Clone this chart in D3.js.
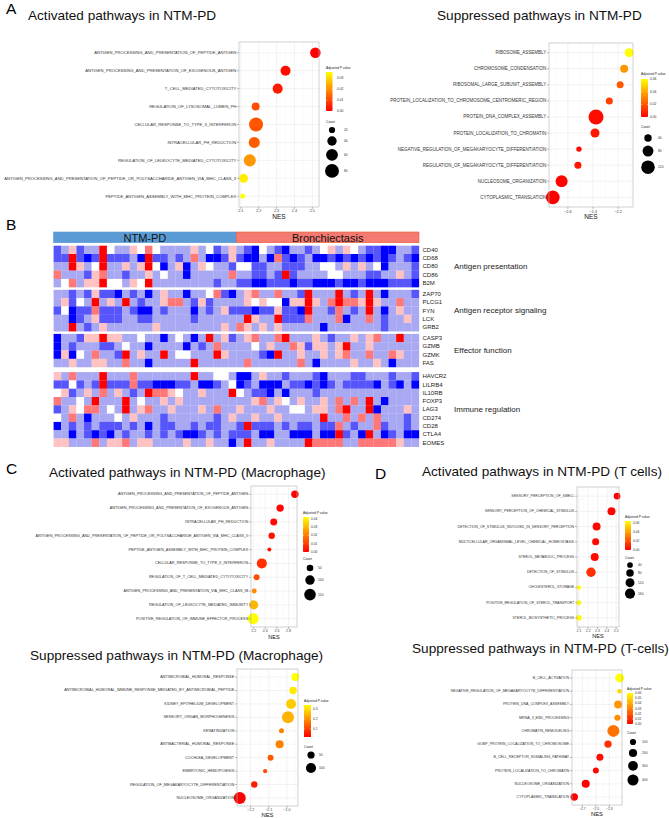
<!DOCTYPE html>
<html>
<head>
<meta charset="utf-8">
<script src="https://cdn.jsdelivr.net/npm/d3@7"></script>
<style>
  body { margin: 0; background: #fff; }
  svg { display: block; }
  text { font-family: "Liberation Sans", Arial, Helvetica, sans-serif; }
</style>
</head>
<body>
<svg id="chart" width="669" height="818"></svg>
<script>
// ---------- Panel A: bulk GSEA ----------
const aUpTerms = ["ANTIGEN_PROCESSING_AND_PRESENTATION_OF_PEPTIDE_ANTIGEN", "ANTIGEN_PROCESSING_AND_PRESENTATION_OF_EXOGENOUS_ANTIGEN", "T_CELL_MEDIATED_CYTOTOXICITY", "REGULATION_OF_LYSOSOMAL_LUMEN_PH", "CELLULAR_RESPONSE_TO_TYPE_II_INTERFERON", "INTRACELLULAR_PH_REDUCTION", "REGULATION_OF_LEUKOCYTE_MEDIATED_CYTOTOXICITY", "ANTIGEN_PROCESSING_AND_PRESENTATION_OF_PEPTIDE_OR_POLYSACCHARIDE_ANTIGEN_VIA_MHC_CLASS_II", "PEPTIDE_ANTIGEN_ASSEMBLY_WITH_MHC_PROTEIN_COMPLEX"];
const aUpNES = [2.517, 2.35, 2.306, 2.183, 2.185, 2.175, 2.15, 2.115, 2.11];
const aUpPadj = [0.0003, 0.002, 0.004, 0.011, 0.012, 0.013, 0.021, 0.033, 0.0355];
const aUpCount = [49, 45, 45, 30, 81, 53, 62, 37, 14];
const aUpTicks = [2.1, 2.2, 2.3, 2.4, 2.5];
const aUpPTicks = [0, 0.01, 0.02, 0.03];
const aUpSizeBreaks = [20, 40, 60, 80];

const aDownTerms = ["RIBOSOME_ASSEMBLY", "CHROMOSOME_CONDENSATION", "RIBOSOMAL_LARGE_SUBUNIT_ASSEMBLY", "PROTEIN_LOCALIZATION_TO_CHROMOSOME_CENTROMERIC_REGION", "PROTEIN_DNA_COMPLEX_ASSEMBLY", "PROTEIN_LOCALIZATION_TO_CHROMATIN", "NEGATIVE_REGULATION_OF_MEGAKARYOCYTE_DIFFERENTIATION", "REGULATION_OF_MEGAKARYOCYTE_DIFFERENTIATION", "NUCLEOSOME_ORGANIZATION", "CYTOPLASMIC_TRANSLATION"];
const aDownNES = [-2.112, -2.152, -2.184, -2.27, -2.376, -2.384, -2.512, -2.52, -2.65, -2.72];
const aDownPadj = [0.06, 0.036, 0.021, 0.015, 0.003, 0.006, 0.003, 0.005, 0.001, 0.0003];
const aDownCount = [57, 46, 36, 36, 147, 57, 23, 36, 96, 122];
const aDownTicks = [-2.6, -2.4, -2.2];
const aDownPTicks = [0, 0.02, 0.04, 0.06];
const aDownSizeBreaks = [40, 80, 120];

// ---------- Panel C: macrophages ----------
const cUpTerms = ["ANTIGEN_PROCESSING_AND_PRESENTATION_OF_PEPTIDE_ANTIGEN", "ANTIGEN_PROCESSING_AND_PRESENTATION_OF_EXOGENOUS_ANTIGEN", "INTRACELLULAR_PH_REDUCTION", "ANTIGEN_PROCESSING_AND_PRESENTATION_OF_PEPTIDE_OR_POLYSACCHARIDE_ANTIGEN_VIA_MHC_CLASS_II", "PEPTIDE_ANTIGEN_ASSEMBLY_WITH_MHC_PROTEIN_COMPLEX", "CELLULAR_RESPONSE_TO_TYPE_II_INTERFERON", "REGULATION_OF_T_CELL_MEDIATED_CYTOTOXICITY", "ANTIGEN_PROCESSING_AND_PRESENTATION_VIA_MHC_CLASS_IB", "REGULATION_OF_LEUKOCYTE_MEDIATED_IMMUNITY", "POSITIVE_REGULATION_OF_IMMUNE_EFFECTOR_PROCESS"];
const cUpNES = [2.909, 2.655, 2.545, 2.51, 2.47, 2.34, 2.25, 2.21, 2.2, 2.19];
const cUpPadj = [0.0003, 0.001, 0.002, 0.003, 0.003, 0.008, 0.013, 0.023, 0.03, 0.042];
const cUpCount = [61, 61, 55, 46, 18, 112, 41, 28, 91, 135];
const cUpTicks = [2.2, 2.4, 2.6, 2.8];
const cUpPTicks = [0, 0.01, 0.02, 0.03, 0.04];
const cUpSizeBreaks = [50, 100, 150];

const cDownTerms = ["ANTIMICROBIAL_HUMORAL_RESPONSE", "ANTIMICROBIAL_HUMORAL_IMMUNE_RESPONSE_MEDIATED_BY_ANTIMICROBIAL_PEPTIDE", "KIDNEY_EPITHELIUM_DEVELOPMENT", "SENSORY_ORGAN_MORPHOGENESIS", "KERATINIZATION", "ANTIBACTERIAL_HUMORAL_RESPONSE", "COCHLEA_DEVELOPMENT", "EMBRYONIC_HEMOPOIESIS", "REGULATION_OF_MEGAKARYOCYTE_DIFFERENTIATION", "NUCLEOSOME_ORGANIZATION"];
const cDownNES = [-1.954, -1.966, -1.977, -1.994, -2.03, -2.04, -2.09, -2.12, -2.18, -2.26];
const cDownPadj = [0.34, 0.314, 0.276, 0.244, 0.18, 0.18, 0.132, 0.116, 0.052, 0.02];
const cDownCount = [62, 53, 97, 140, 24, 62, 34, 18, 39, 140];
const cDownTicks = [-2.2, -2.1, -2.0];
const cDownPTicks = [0.1, 0.2, 0.3];
const cDownSizeBreaks = [50, 100];

// ---------- Panel D: T cells ----------
const dUpTerms = ["SENSORY_PERCEPTION_OF_SMELL", "SENSORY_PERCEPTION_OF_CHEMICAL_STIMULUS", "DETECTION_OF_STIMULUS_INVOLVED_IN_SENSORY_PERCEPTION", "MULTICELLULAR_ORGANISMAL_LEVEL_CHEMICAL_HOMEOSTASIS", "STEROL_METABOLIC_PROCESS", "DETECTION_OF_STIMULUS", "CHOLESTEROL_STORAGE", "POSITIVE_REGULATION_OF_STEROL_TRANSPORT", "STEROL_BIOSYNTHETIC_PROCESS"];
const dUpNES = [2.51, 2.45, 2.29, 2.28, 2.27, 2.23, 2.1, 2.1, 2.1];
const dUpPadj = [0.0005, 0.001, 0.002, 0.002, 0.003, 0.012, 0.064, 0.062, 0.063];
const dUpCount = [58, 92, 92, 67, 92, 135, 20, 28, 38];
const dUpTicks = [2.1, 2.2, 2.3, 2.4, 2.5];
const dUpPTicks = [0, 0.02, 0.04, 0.06];
const dUpSizeBreaks = [40, 80, 120, 160];

const dDownTerms = ["B_CELL_ACTIVATION", "NEGATIVE_REGULATION_OF_MEGAKARYOCYTE_DIFFERENTIATION", "PROTEIN_DNA_COMPLEX_ASSEMBLY", "MRNA_3_END_PROCESSING", "CHROMATIN_REMODELING", "GOBP_PROTEIN_LOCALIZATION_TO_CHROMOSOME", "B_CELL_RECEPTOR_SIGNALING_PATHWAY", "PROTEIN_LOCALIZATION_TO_CHROMATIN", "NUCLEOSOME_ORGANIZATION", "CYTOPLASMIC_TRANSLATION"];
const dDownNES = [-2.146, -2.15, -2.17, -2.18, -2.24, -2.32, -2.44, -2.5, -2.65, -2.82];
const dDownPadj = [0.06, 0.051, 0.036, 0.033, 0.027, 0.012, 0.003, 0.002, 0.001, 0.0005];
const dDownCount = [248, 45, 188, 92, 480, 155, 136, 92, 188, 155];
const dDownTicks = [-2.7, -2.5, -2.3];
const dDownPTicks = [0, 0.01, 0.02, 0.03, 0.04, 0.05, 0.06];
const dDownSizeBreaks = [100, 200, 300, 400];

// ---------- Panel B: heatmap (row z-scores) ----------
const cohorts = ["NTM-PD", "Bronchiectasis"];
const cohortSizes = [24, 24];
const hmGroupNames = ["Antigen presentation", "Antigen receptor signaling", "Effector function", "Immune regulation"];

const antigenPresentationGenes = ["CD40", "CD68", "CD80", "CD86", "B2M"];
const antigenPresentationZ = [
  [-2,-1,1,-2,-1,-1,3,0,-1,-1,1,0,2,0,-1,-1,-1,-1,1,-1,0,-2,-1,1, -1,-2,-3,0,-1,-2,-3,-1,-1,-2,-1,0,1,-1,1,0,-1,-2,-2,-3,-3,-1,-1,-2],
  [-2,-2,3,-2,-3,-2,3,-2,-2,-2,-1,-3,3,-2,-2,-1,-2,-1,2,-1,-3,-3,-2,1, -2,-3,-3,-1,-3,2,-2,-3,-2,-1,-3,-3,-2,-3,-2,-3,-2,-3,-2,-3,-2,-1,-2,-3],
  [-1,-1,3,1,-1,0,3,-1,-1,1,-1,1,3,0,-3,-1,1,-3,-1,1,0,-1,-1,-2, 0,0,-2,-2,-1,-1,-2,-2,-2,-1,-1,0,0,-1,1,-1,1,-1,0,-3,-1,-1,-1,-2],
  [2,-1,-1,-1,-2,1,2,-1,-1,-2,-1,-1,1,-1,0,-1,-1,-3,-1,-1,-1,-1,-1,2, -1,-1,-2,-2,-1,-2,3,-2,-1,-1,-1,-1,0,0,-1,-1,-1,-2,-2,-1,-1,1,-1,-2],
  [-1,0,2,-1,1,1,3,0,0,-1,1,0,3,-1,-1,-1,-1,-1,-1,-1,-1,-2,-1,-1, -2,-2,-3,-3,-2,-2,-2,-3,-2,-2,-3,-3,-3,-2,-3,-3,-2,-3,-3,-3,-2,-2,-2,-3]
];

const receptorSignalingGenes = ["ZAP70", "PLCG1", "FYN", "LCK", "GRB2"];
const receptorSignalingZ = [
  [-1,-1,-2,-1,-2,1,-2,-2,-3,-1,-2,-1,-3,-1,1,-1,-1,-3,-1,-1,0,2,-2,-3, -1,1,2,-1,-1,2,-1,-1,-2,3,-1,-1,-1,3,-1,-2,-1,3,-1,-3,-1,-1,-1,-2],
  [-1,1,-2,0,-1,3,-1,1,-1,3,-1,-2,-1,-1,1,2,2,-1,-2,1,-2,-1,-1,-1, -1,1,0,1,0,0,-3,1,1,3,1,-1,2,3,2,2,1,3,1,-1,-1,2,-1,-1],
  [-2,0,-3,-2,-2,2,-2,-2,-2,-1,-2,-3,-3,-1,-2,-1,-1,-1,-3,-1,-2,-1,1,-2, -2,-2,-3,-2,-2,1,-2,-2,-3,3,-1,-1,-2,2,-1,-2,-1,3,-1,-3,-1,1,-1,-1],
  [-1,-1,-3,-2,-1,1,-2,-2,-2,-1,-1,-2,-2,-1,-1,-1,-1,-1,-2,-1,-1,-1,-1,-1, -1,3,1,-1,-1,3,-2,-2,-2,2,-1,-1,-1,2,-3,-1,-1,2,-1,-2,-1,-1,1,-1],
  [-1,-1,3,-1,-2,-1,1,-1,-1,-1,-1,-1,-1,1,-1,-1,-1,-1,-1,-1,-1,-1,1,-1, 2,1,-1,1,-1,1,-1,-1,-1,-1,-1,-3,-1,-1,-1,-1,-1,-1,-1,-2,-1,-1,-1,-1]
];

const effectorGenes = ["CASP3", "GZMB", "GZMK", "FAS"];
const effectorZ = [
  [-3,-1,-1,-2,1,1,3,1,1,-1,-1,0,-1,-1,-3,-1,0,-1,-3,-1,3,-1,1,-2, -1,1,2,-1,-1,2,3,-1,-1,-1,1,-1,-2,-1,-1,1,-1,1,2,-1,-1,3,-1,-1],
  [-3,-1,-2,-1,-1,-1,-2,-2,-1,0,-1,-1,-3,-1,-1,-1,-1,-3,-1,-2,-1,2,-1,-1, -1,-1,0,-1,1,-1,-1,2,1,-2,1,1,-1,1,3,-1,-1,1,-1,-1,-1,-1,-1,-1],
  [-3,1,-3,0,-1,2,-1,-1,-2,3,-1,1,-1,-1,3,-1,0,0,-1,-1,-1,3,1,-1, -1,-1,-1,-2,-3,3,-1,-1,1,-1,-1,1,-1,1,2,-1,-1,2,-1,-1,2,1,-1,-1],
  [-1,-1,1,-1,-1,1,1,-1,-1,2,-1,-1,-3,-1,-1,-1,-1,-1,3,-1,-1,-1,-1,-1, -1,2,-1,-1,-1,-1,-1,-1,2,-1,-3,-1,-1,-1,-1,1,-1,-1,1,-1,-3,-1,-1,-1]
];

const immuneRegulationGenes = ["HAVCR2", "LILRB4", "IL10RB", "FOXP3", "LAG3", "CD274", "CD28", "CTLA4", "EOMES"];
const immuneRegulationZ = [
  [1,-1,2,-1,-1,-1,3,-1,-1,-1,2,-1,-1,-1,-1,-1,-1,-1,3,-1,-1,0,0,-1, -3,-3,-1,1,-1,-1,-2,-1,-1,-1,-2,-3,-1,-1,-1,-2,-2,-1,-1,-1,-2,-1,-1,-2],
  [-2,-2,0,-2,-1,-2,3,-2,-2,-2,2,-2,-2,-3,-3,-3,-2,-2,-1,-3,-3,-2,-1,0, -3,-2,-1,-3,-3,-3,-1,-2,-2,-3,-2,-3,-2,-1,-2,-2,-2,-2,-3,-1,-2,-3,-1,-3],
  [0,1,-2,-1,1,-1,2,-1,1,-1,-2,-1,3,2,2,1,0,-1,-1,1,-1,-1,-1,3, 0,-1,-2,-2,-3,-1,-3,-1,-1,-1,-2,-1,-1,-1,-1,-1,-1,-1,-1,-1,-1,-1,-1,-1],
  [2,-1,-1,0,-1,3,-1,-1,-1,3,-1,0,-1,-1,1,-1,1,-1,-1,-1,-1,-1,-1,-1, -1,-1,1,2,-1,1,0,-1,1,-1,-1,1,-1,2,-1,2,-1,3,-1,-3,-1,-1,-1,-1],
  [-2,-1,1,0,2,2,-1,0,-1,3,-1,1,2,-1,-1,1,-1,-1,-1,1,-1,2,-1,-1, 1,-1,-1,-1,1,-1,-1,0,0,-1,1,1,-1,2,3,-1,-1,3,-3,-1,-1,-1,1,-1],
  [0,-1,2,-1,-3,-1,-1,-1,0,-1,1,-1,-1,-1,-2,-1,-1,-1,-1,-1,-1,-2,-1,1, -1,-1,1,-1,-1,1,-1,-1,-1,-1,-1,3,-1,-1,2,-1,2,-1,2,-1,-1,-1,-2,-1],
  [-3,-1,-2,-1,-2,-1,-2,-2,-2,-1,-2,-1,-3,-1,-2,-2,-1,-1,-2,-1,-2,-2,-1,-1, -2,3,-2,-2,-2,-1,-2,-1,-2,-2,-1,-2,-2,2,-1,-2,-1,-1,2,-2,-1,-1,-2,-1],
  [-1,-1,-3,-1,-2,-3,-2,-3,-1,-2,-1,-1,-2,-1,-2,-1,-2,-3,-3,-2,-1,-2,-1,-2, -2,-2,-1,-3,-3,-1,-1,-3,-3,-3,-1,-3,-3,3,-2,-1,-3,3,-1,-3,-2,-1,-3,-3],
  [1,1,-1,-1,-1,2,-1,1,1,2,-1,1,1,-1,-1,-1,-1,1,-1,-1,1,-1,-1,-3, -1,3,-1,-1,1,-1,-1,-1,-1,3,2,2,2,2,-1,-1,2,2,2,2,2,1,-1,-1]
];

const svg = d3.select("#chart");
const defs = svg.append("defs");
svg.append("rect").attr("width", 669).attr("height", 818).attr("fill", "#fff");

// Draws one ggplot-style GSEA dot plot with its legends
function dotPanel(o) {
  const g = svg.append("g");
  const ext = d3.extent(o.nes);
  const padX = (ext[1] - ext[0]) * 0.05;
  const x = d3.scaleLinear().domain([ext[0] - padX, ext[1] + padX]).range([o.x0, o.x1]);
  const y = d3.scalePoint().domain(o.terms).range([o.y0, o.y1]).padding(0.6);
  const pExt = d3.extent(o.padj);
  const col = d3.scaleLinear().domain(pExt).range(["#ff0000", "#ffff00"]);
  const r = d3.scaleSqrt().domain(o.sizeDomain).range(o.sizeRange);

  g.append("rect")
    .attr("x", o.x0).attr("y", o.y0)
    .attr("width", o.x1 - o.x0).attr("height", o.y1 - o.y0)
    .attr("fill", "#fff");

  // grid lines
  const step = o.ticks[1] - o.ticks[0];
  const minor = [o.ticks[0] - step / 2].concat(o.ticks.map(t => t + step / 2))
    .filter(v => v > x.domain()[0] && v < x.domain()[1]);
  g.selectAll(".minor").data(minor).join("line")
    .attr("x1", d => x(d)).attr("x2", d => x(d))
    .attr("y1", o.y0).attr("y2", o.y1)
    .attr("stroke", "#f2f2f2").attr("stroke-width", 0.3);
  g.selectAll(".gx").data(o.ticks).join("line")
    .attr("x1", d => x(d)).attr("x2", d => x(d))
    .attr("y1", o.y0).attr("y2", o.y1)
    .attr("stroke", "#e6e6e6").attr("stroke-width", 0.5);
  g.selectAll(".gy").data(o.terms).join("line")
    .attr("x1", o.x0).attr("x2", o.x1)
    .attr("y1", d => y(d)).attr("y2", d => y(d))
    .attr("stroke", "#e6e6e6").attr("stroke-width", 0.5);

  // points
  g.selectAll(".pt").data(o.terms).join("circle")
    .attr("cx", (d, i) => x(o.nes[i]))
    .attr("cy", d => y(d))
    .attr("r", (d, i) => r(o.count[i]))
    .attr("fill", (d, i) => col(o.padj[i]));

  g.append("rect")
    .attr("x", o.x0).attr("y", o.y0)
    .attr("width", o.x1 - o.x0).attr("height", o.y1 - o.y0)
    .attr("fill", "none").attr("stroke", "#b3b3b3").attr("stroke-width", 0.6);

  // y axis
  g.selectAll(".yt").data(o.terms).join("line")
    .attr("x1", o.x0 - 2).attr("x2", o.x0)
    .attr("y1", d => y(d)).attr("y2", d => y(d))
    .attr("stroke", "#555").attr("stroke-width", 0.4);
  g.selectAll(".yl").data(o.terms).join("text")
    .attr("x", o.x0 - 2.8).attr("y", d => y(d))
    .attr("text-anchor", "end").attr("dominant-baseline", "central")
    .attr("font-size", o.labelSize).attr("fill", "#333")
    .text(d => d);

  // x axis
  g.selectAll(".xt").data(o.ticks).join("line")
    .attr("x1", d => x(d)).attr("x2", d => x(d))
    .attr("y1", o.y1).attr("y2", o.y1 + 2)
    .attr("stroke", "#555").attr("stroke-width", 0.4);
  g.selectAll(".xl").data(o.ticks).join("text")
    .attr("x", d => x(d)).attr("y", o.y1 + 2.4 + o.tickSize * 0.8)
    .attr("text-anchor", "middle").attr("font-size", o.tickSize).attr("fill", "#444")
    .text(d => d3.format(".1f")(d).replace("-", "\u2212"));
  g.append("text")
    .attr("x", (o.x0 + o.x1) / 2).attr("y", o.nesY)
    .attr("text-anchor", "middle").attr("font-size", o.nesSize).attr("fill", "#111")
    .text("NES");

  // colour legend
  const L = o.legend;
  const fs = 3.3;
  g.append("text").attr("x", L.x).attr("y", L.titleY)
    .attr("font-size", fs).attr("fill", "#222").text("Adjusted P value");
  const gid = "grad-" + o.id;
  const grad = defs.append("linearGradient").attr("id", gid)
    .attr("x1", 0).attr("y1", 1).attr("x2", 0).attr("y2", 0);
  grad.append("stop").attr("offset", 0).attr("stop-color", "#ff0000");
  grad.append("stop").attr("offset", 0.5).attr("stop-color", "#ff8000");
  grad.append("stop").attr("offset", 1).attr("stop-color", "#ffff00");
  g.append("rect").attr("x", L.x).attr("y", L.barY)
    .attr("width", L.barW).attr("height", L.barH)
    .attr("fill", "url(#" + gid + ")");
  const py = d3.scaleLinear().domain(pExt).range([L.barY + L.barH, L.barY]);
  const pt = o.pTicks.map(v => Math.max(L.barY, Math.min(L.barY + L.barH, py(v))));
  g.selectAll(".pwt").data(pt).join("line")
    .attr("x1", L.x).attr("x2", L.x + 1.2).attr("y1", d => d).attr("y2", d => d)
    .attr("stroke", "#fff").attr("stroke-width", 0.4);
  g.selectAll(".pwt2").data(pt).join("line")
    .attr("x1", L.x + L.barW - 1.2).attr("x2", L.x + L.barW).attr("y1", d => d).attr("y2", d => d)
    .attr("stroke", "#fff").attr("stroke-width", 0.4);
  g.selectAll(".pl").data(o.pTicks).join("text")
    .attr("x", L.pLabelX).attr("y", (d, i) => pt[i])
    .attr("dominant-baseline", "central").attr("font-size", fs).attr("fill", "#333")
    .text(d => d3.format(o.pFormat)(d));

  // size legend
  g.append("text").attr("x", L.x).attr("y", L.countY)
    .attr("font-size", fs).attr("fill", "#222").text("Count");
  let cy = L.keyY0;
  const keyYs = o.sizeBreaks.map((v, i) => {
    if (i > 0) cy += r(o.sizeBreaks[i - 1]) + r(v) + L.pad;
    return cy;
  });
  g.selectAll(".key").data(o.sizeBreaks).join("circle")
    .attr("cx", L.keyX).attr("cy", (d, i) => keyYs[i]).attr("r", d => r(d))
    .attr("fill", "#000");
  g.selectAll(".keyl").data(o.sizeBreaks).join("text")
    .attr("x", L.keyLabelX).attr("y", (d, i) => keyYs[i])
    .attr("dominant-baseline", "central").attr("font-size", fs).attr("fill", "#333")
    .text(d => d);
}

dotPanel({
  id: "aup", terms: aUpTerms, nes: aUpNES, padj: aUpPadj, count: aUpCount,
  ticks: aUpTicks, pTicks: aUpPTicks, pFormat: ".2f", sizeBreaks: aUpSizeBreaks,
  sizeDomain: [10, 90], sizeRange: [2, 7.4],
  x0: 239, x1: 319, y0: 42, y1: 207, labelSize: 4.15, tickSize: 3.8, nesSize: 6.5, nesY: 219,
  legend: { x: 326, titleY: 69, barY: 72, barW: 6.5, barH: 39, pLabelX: 337,
            countY: 123, keyX: 332, keyY0: 130, keyLabelX: 344, pad: 3.2 }
});
dotPanel({
  id: "adown", terms: aDownTerms, nes: aDownNES, padj: aDownPadj, count: aDownCount,
  ticks: aDownTicks, pTicks: aDownPTicks, pFormat: ".2f", sizeBreaks: aDownSizeBreaks,
  sizeDomain: [20, 150], sizeRange: [2.5, 7.6],
  x0: 549, x1: 633, y0: 43, y1: 207, labelSize: 4.5, tickSize: 4, nesSize: 6.5, nesY: 219,
  legend: { x: 641, titleY: 75, barY: 79, barW: 7, barH: 38, pLabelX: 650,
            countY: 128, keyX: 648, keyY0: 138, keyLabelX: 658, pad: 3.9 }
});
dotPanel({
  id: "cup", terms: cUpTerms, nes: cUpNES, padj: cUpPadj, count: cUpCount,
  ticks: cUpTicks, pTicks: cUpPTicks, pFormat: ".2f", sizeBreaks: cUpSizeBreaks,
  sizeDomain: [15, 160], sizeRange: [1.8, 6],
  x0: 251, x1: 297, y0: 486, y1: 627, labelSize: 3.8, tickSize: 3.6, nesSize: 5.5, nesY: 639,
  legend: { x: 303, titleY: 514, barY: 517, barW: 6, barH: 35, pLabelX: 311,
            countY: 560, keyX: 310, keyY0: 568, keyLabelX: 318, pad: 4 }
});
dotPanel({
  id: "cdown", terms: cDownTerms, nes: cDownNES, padj: cDownPadj, count: cDownCount,
  ticks: cDownTicks, pTicks: cDownPTicks, pFormat: ".1f", sizeBreaks: cDownSizeBreaks,
  sizeDomain: [15, 150], sizeRange: [2, 6.2],
  x0: 237, x1: 298, y0: 669, y1: 806, labelSize: 3.8, tickSize: 3.6, nesSize: 5.8, nesY: 817,
  legend: { x: 304, titleY: 702, barY: 705, barW: 7, barH: 32, pLabelX: 313,
            countY: 748, keyX: 311, keyY0: 755, keyLabelX: 319, pad: 4.3 }
});
dotPanel({
  id: "dup", terms: dUpTerms, nes: dUpNES, padj: dUpPadj, count: dUpCount,
  ticks: dUpTicks, pTicks: dUpPTicks, pFormat: ".2f", sizeBreaks: dUpSizeBreaks,
  sizeDomain: [15, 170], sizeRange: [2, 5.2],
  x0: 577, x1: 619, y0: 487, y1: 627, labelSize: 3.55, tickSize: 3.5, nesSize: 5.5, nesY: 638,
  legend: { x: 625, titleY: 518, barY: 521, barW: 6, barH: 29, pLabelX: 633,
            countY: 559, keyX: 630, keyY0: 565, keyLabelX: 638, pad: 1.4 }
});
dotPanel({
  id: "ddown", terms: dDownTerms, nes: dDownNES, padj: dDownPadj, count: dDownCount,
  ticks: dDownTicks, pTicks: dDownPTicks, pFormat: ".2f", sizeBreaks: dDownSizeBreaks,
  sizeDomain: [30, 480], sizeRange: [2, 6],
  x0: 572, x1: 622, y0: 670, y1: 805, labelSize: 3.6, tickSize: 3.5, nesSize: 5.8, nesY: 816,
  legend: { x: 627, titleY: 690, barY: 693, barW: 6, barH: 31, pLabelX: 635,
            countY: 734, keyX: 633, keyY0: 742, keyLabelX: 642, pad: 3.8 }
});

// ---------- Heatmap ----------
const nSamples = cohortSizes[0] + cohortSizes[1];
const hmX = d3.scaleBand().domain(d3.range(nSamples)).range([53.6, 419]);
const hmColor = d3.scaleLinear()
  .domain([-3, -2, -1, 0, 1, 2, 3])
  .range(["#0000ff", "#5555fb", "#a9a9f3", "#ffffff", "#ffc2c2", "#ff7777", "#ff0000"]);
const hmGroups = [
  { genes: antigenPresentationGenes, z: antigenPresentationZ },
  { genes: receptorSignalingGenes, z: receptorSignalingZ },
  { genes: effectorGenes, z: effectorZ },
  { genes: immuneRegulationGenes, z: immuneRegulationZ }
];
const rowH = 8.3;
const groupGaps = [2.6, 2.6, 5];
const hm = svg.append("g");

// cohort header
const cohortFill = ["#5b9bd5", "#f47a72"];
const cohortStroke = ["#5b9bd5", "#e8602c"];
let startIdx = 0;
cohorts.forEach((c, i) => {
  const xa = hmX(startIdx), xb = hmX(startIdx + cohortSizes[i] - 1) + hmX.bandwidth();
  hm.append("rect").attr("x", xa).attr("y", 232).attr("width", xb - xa).attr("height", 10.7)
    .attr("fill", cohortFill[i]).attr("stroke", cohortStroke[i]).attr("stroke-width", 0.6);
  hm.append("text").attr("x", (xa + xb) / 2).attr("y", 241.6)
    .attr("text-anchor", "middle").attr("font-size", 11).attr("fill", "#111").text(c);
  startIdx += cohortSizes[i];
});

let yCursor = 245.7;
hmGroups.forEach((grp, gi) => {
  const yb = d3.scaleBand().domain(grp.genes)
    .range([yCursor, yCursor + grp.genes.length * rowH]);
  grp.genes.forEach((gene, ri) => {
    hm.selectAll(null).data(grp.z[ri]).join("rect")
      .attr("x", (d, j) => hmX(j)).attr("y", yb(gene))
      .attr("width", hmX.bandwidth() + 0.15).attr("height", yb.bandwidth() + 0.15)
      .attr("fill", d => hmColor(d));
    hm.append("text").attr("x", 422.5).attr("y", yb(gene) + yb.bandwidth() / 2)
      .attr("dominant-baseline", "central").attr("font-size", 6).attr("fill", "#222")
      .text(gene);
  });
  hm.append("text").attr("x", 454)
    .attr("y", yCursor + grp.genes.length * rowH / 2)
    .attr("dominant-baseline", "central").attr("font-size", 8).attr("fill", "#222")
    .text(hmGroupNames[gi]);
  yCursor += grp.genes.length * rowH + (groupGaps[gi] || 0);
});

// ---------- Titles and panel letters ----------
const titles = [
  { t: "Activated pathways in NTM-PD", x: 28, y: 20 },
  { t: "Suppressed pathways in NTM-PD", x: 437, y: 20 },
  { t: "Activated pathways in NTM-PD (Macrophage)", x: 49, y: 477 },
  { t: "Suppressed pathways in NTM-PD (Macrophage)", x: 30, y: 660 },
  { t: "Activated pathways in NTM-PD (T cells)", x: 422, y: 476 },
  { t: "Suppressed pathways in NTM-PD (T-cells)", x: 412, y: 653 }
];
svg.selectAll(".title").data(titles).join("text")
  .attr("x", d => d.x).attr("y", d => d.y)
  .attr("font-size", 13.6).attr("fill", "#111").text(d => d.t);

const letters = [
  { t: "A", x: 6, y: 13.5 }, { t: "B", x: 6, y: 230 },
  { t: "C", x: 6, y: 474 }, { t: "D", x: 375, y: 479 }
];
svg.selectAll(".letter").data(letters).join("text")
  .attr("x", d => d.x).attr("y", d => d.y)
  .attr("font-size", 15.5).attr("fill", "#000").text(d => d.t);
</script>
</body>
</html>
